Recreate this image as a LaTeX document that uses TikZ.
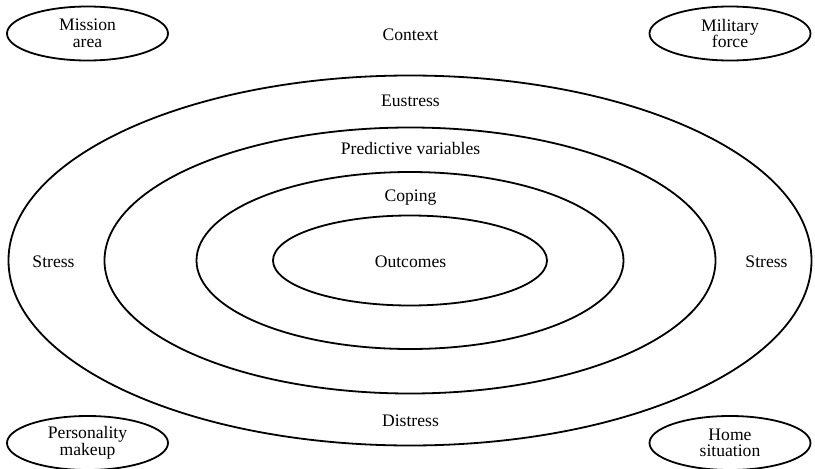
\documentclass[tikz,border=0pt]{standalone}
\usepackage{fontspec}
\setmainfont{Liberation Serif}
\usetikzlibrary{shapes.geometric}
\tikzset{
	ring/.style={draw, ellipse, line width=1.8pt, inner sep=0pt},
	factor/.style={draw, ellipse, line width=1.8pt, inner sep=0pt, minimum width=161pt, minimum height=54pt, align=center},
	lbl/.style={anchor=base, inner sep=0pt}
}
\begin{document}
\begin{tikzpicture}[x=1pt, y=-1pt, font=\fontsize{17.6}{16.5}\selectfont]
			\useasboundingbox (0,0) rectangle (815,469);
			%coordinates
			\coordinate (mid) at (410,260.5);
			
			%rings
			\node[ring, minimum width=803pt, minimum height=370pt] (outer) at (mid) {};
			\node[ring, minimum width=611pt, minimum height=266pt] (predictive) at (mid) {};
			\node[ring, minimum width=427pt, minimum height=177pt] (coping) at (mid) {};
			\node[ring, minimum width=274pt, minimum height=90pt] (outcomes) at (mid) {};
			
			%corner factors
			\node[factor] (mission) at (87.5,33.5) {Mission\\area};
			\node[factor] (military) at (730,33.5) {Military\\force};
			\node[factor] (personality) at (87.5,443) {Personality\\makeup};
			\node[factor] (home) at (730,443) {Home\\situation};
			
			%labels
			\node[lbl] (context) at (410.5,40) {Context};
			\node[lbl] (eustress) at (410.5,106) {Eustress};
			\node[lbl] (predlbl) at (410.5,154) {Predictive variables};
			\node[lbl] (copelbl) at (410.5,201) {Coping};
			\node[lbl] (outlbl) at (410.5,267) {Outcomes};
			\node[lbl] (distress) at (410.5,426) {Distress};
			\node[lbl] (stressl) at (53.5,267) {Stress};
			\node[lbl] (stressr) at (766.5,267) {Stress};
\end{tikzpicture}
\end{document}
